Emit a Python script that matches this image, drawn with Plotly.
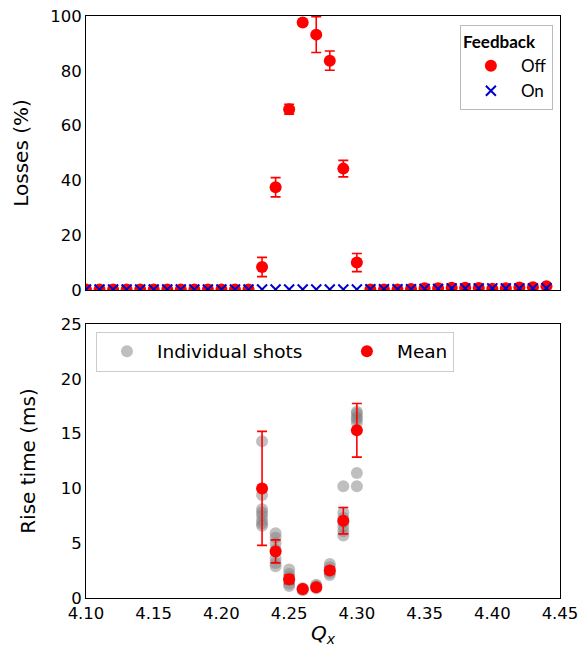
import plotly.graph_objects as go

# ---------------- data ----------------
qx = [4.10, 4.11, 4.12, 4.13, 4.14, 4.15, 4.16, 4.17, 4.18, 4.19, 4.20, 4.21, 4.22,
      4.23, 4.24, 4.25, 4.26, 4.27, 4.28, 4.29, 4.30,
      4.31, 4.32, 4.33, 4.34, 4.35, 4.36, 4.37, 4.38, 4.39, 4.40, 4.41, 4.42, 4.43, 4.44]
loss_off = [0.2, 0.2, 0.2, 0.2, 0.2, 0.2, 0.2, 0.2, 0.2, 0.2, 0.2, 0.2, 0.2,
            8.4, 37.5, 66.0, 97.6, 93.2, 83.7, 44.3, 10.0,
            0.2, 0.2, 0.2, 0.4, 0.6, 0.6, 0.8, 0.8, 0.7, 0.5, 0.6, 0.9, 1.0, 1.4]
loss_off_err = [0, 0, 0, 0, 0, 0, 0, 0, 0, 0, 0, 0, 0,
                3.5, 3.5, 1.8, 0.0, 6.5, 3.5, 3.0, 3.3,
                0, 0, 0, 0, 0, 0, 0, 0, 0, 0, 0, 0, 0, 0]
loss_on = [0.2, 0.2, 0.2, 0.2, 0.2, 0.2, 0.2, 0.2, 0.2, 0.2, 0.2, 0.2, 0.2,
           0.2, 0.2, 0.2, 0.2, 0.2, 0.2, 0.2, 0.2,
           0.3, 0.3, 0.3, 0.3, 0.4, 0.4, 0.6, 0.6, 0.6, 0.6, 0.6, 0.6, 0.6, 0.7]

shot_qx = ([4.23] * 8 + [4.24] * 7 + [4.25] * 6 + [4.26] * 4 + [4.27] * 4 +
           [4.28] * 5 + [4.29] * 7 + [4.30] * 7)
shot_rise = ([14.3, 9.4, 8.1, 7.8, 7.5, 7.1, 6.8, 6.6] +
             [5.9, 5.5, 5.0, 4.4, 3.6, 3.2, 2.9] +
             [2.6, 2.2, 1.9, 1.6, 1.3, 1.1] +
             [0.9, 0.8, 0.7, 0.8] +
             [1.1, 0.9, 1.0, 1.2] +
             [3.1, 2.8, 2.5, 2.3, 2.1] +
             [10.2, 7.8, 7.3, 6.9, 6.5, 6.1, 5.7] +
             [17.0, 16.8, 16.5, 16.3, 16.0, 11.4, 10.2])

mean_qx = [4.23, 4.24, 4.25, 4.26, 4.27, 4.28, 4.29, 4.30]
mean_rise = [10.0, 4.25, 1.7, 0.82, 0.98, 2.5, 7.05, 15.3]
mean_err = [5.2, 1.05, 0.4, 0.2, 0.2, 0.3, 1.2, 2.45]

xticks = [4.10, 4.15, 4.20, 4.25, 4.30, 4.35, 4.40, 4.45]
xticklabels = ["4.10", "4.15", "4.20", "4.25", "4.30", "4.35", "4.40", "4.45"]

# ---------------- figure ----------------
RED = "#ff0000"
BLUE = "#0000cd"
FONT = "DejaVu Sans"
NB = "\u00a0"

fig = go.Figure()

fig.add_trace(go.Scatter(
    x=qx, y=loss_off, mode="markers", name="Off",
    marker=dict(color=RED, size=12),
    error_y=dict(type="data", array=loss_off_err, color=RED, thickness=1.6, width=5),
    xaxis="x", yaxis="y", legend="legend"))
fig.add_trace(go.Scatter(
    x=qx, y=loss_on, mode="markers", name="On",
    marker=dict(color=BLUE, size=10, symbol="x-thin", line=dict(color=BLUE, width=2)),
    xaxis="x", yaxis="y", legend="legend"))

fig.add_trace(go.Scatter(
    x=shot_qx, y=shot_rise, mode="markers", name="Individual shots" + NB * 5,
    marker=dict(color="#808080", size=12, opacity=0.5),
    xaxis="x2", yaxis="y2", legend="legend2"))
fig.add_trace(go.Scatter(
    x=mean_qx, y=mean_rise, mode="markers", name="Mean",
    marker=dict(color=RED, size=12),
    error_y=dict(type="data", array=mean_err, color=RED, thickness=1.6, width=5),
    xaxis="x2", yaxis="y2", legend="legend2"))

axis_common = dict(showline=True, linecolor="black", linewidth=1, mirror=True,
                   ticks="", showgrid=False, zeroline=False, automargin=False,
                   tickfont=dict(family=FONT, size=16.5, color="black"))

fig.update_layout(
    width=584, height=652,
    margin=dict(l=86, r=24, t=16, b=54, autoexpand=False),
    plot_bgcolor="white", paper_bgcolor="white",
    font=dict(family=FONT, color="black"),
    xaxis=dict(domain=[0, 1], range=[4.10, 4.45], anchor="y", matches="x2",
               showticklabels=False, tickvals=xticks, **axis_common),
    yaxis=dict(domain=[0.5292, 1], range=[0, 100], anchor="x",
               tickvals=[0, 20, 40, 60, 80, 100],
               title=dict(text="Losses (%)", font=dict(family=FONT, size=20), standoff=16),
               **axis_common),
    xaxis2=dict(domain=[0, 1], range=[4.10, 4.45], anchor="y2",
                tickvals=xticks, ticktext=xticklabels,
                title=dict(text="<i>Q</i><sub><i>x</i></sub>", font=dict(family=FONT, size=20), standoff=4),
                **axis_common),
    yaxis2=dict(domain=[0, 0.4708], range=[0, 25], anchor="x2",
                tickvals=[0, 5, 10, 15, 20, 25],
                title=dict(text="Rise time (ms)", font=dict(family=FONT, size=20), standoff=19),
                **axis_common),
    legend=dict(
        x=0.985, y=0.9845, xanchor="right", yanchor="top",
        title=dict(text="<b>Feedback</b>", font=dict(family="Lato", size=17)),
        font=dict(family="Lato", size=17),
        bordercolor="#bbbbbb", borderwidth=1, bgcolor="white",
        itemwidth=50, tracegroupgap=0),
    legend2=dict(
        x=0.021, y=0.4575, xanchor="left", yanchor="top", orientation="h",
        font=dict(family=FONT, size=18.5),
        bordercolor="#cccccc", borderwidth=1, bgcolor="white",
        itemwidth=50),
    showlegend=True,
)

fig.write_html("out.html", config={"displayModeBar": False},
               post_script="document.body.style.margin='0px';")
